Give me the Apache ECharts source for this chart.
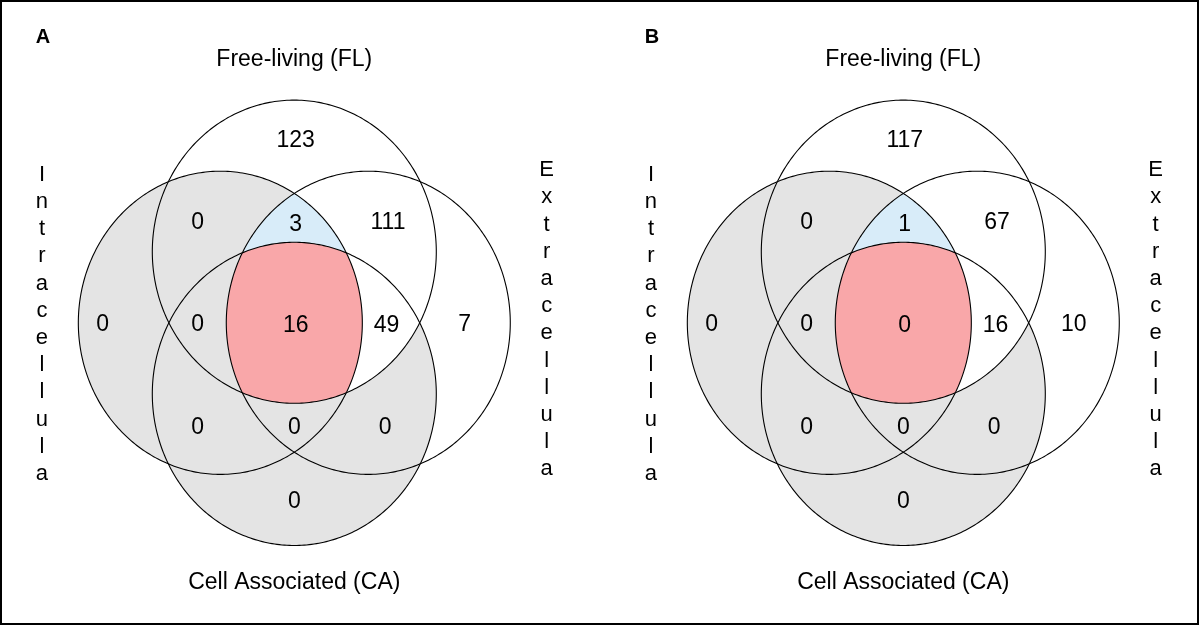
<!DOCTYPE html>
<html><head><meta charset="utf-8">
<script src="https://cdn.jsdelivr.net/npm/echarts@6/dist/echarts.min.js"></script>
<style>html,body{margin:0;padding:0;background:#fff}#c{width:1200px;height:626px}</style>
</head><body><div id="c"></div>
<script>
// ---- data ----
const panelLetters = ['A', 'B'];
const topLabel = 'Free-living (FL)';
const bottomLabel = 'Cell Associated (CA)';
const leftLabel = 'Intracellula';
const rightLabel = 'Extracellula';
const regionNames = ['FL', 'FL∩I', 'FL∩I∩E', 'FL∩E', 'I', 'FL∩I∩CA', 'FL∩I∩E∩CA', 'FL∩E∩CA', 'E', 'I∩CA', 'I∩E∩CA', 'E∩CA', 'CA'];
const countsA = [123, 0, 3, 111, 0, 0, 16, 49, 7, 0, 0, 0, 0];
const countsB = [117, 0, 1, 67, 0, 0, 0, 16, 10, 0, 0, 0, 0];

// ---- layout (unit-circle Venn geometry) ----
const circleCenters = { FL: [0, 0.469], I: [-0.521, 0], E: [0.521, 0], CA: [0, -0.469] };
const regionPos = {
  'FL': [0.01, 1.2], 'FL∩I': [-0.68, 0.66], 'FL∩I∩E': [0.01, 0.65], 'FL∩E': [0.66, 0.66],
  'I': [-1.35, -0.01], 'FL∩I∩CA': [-0.68, -0.01], 'FL∩I∩E∩CA': [0.01, -0.02], 'FL∩E∩CA': [0.65, -0.02],
  'E': [1.2, -0.01], 'I∩CA': [-0.68, -0.69], 'I∩E∩CA': [0.0, -0.69], 'E∩CA': [0.64, -0.69], 'CA': [0.0, -1.18]
};
const FONT = 'Liberation Sans, Arial, sans-serif';

function regionPoly(sets, p0, n) {
  const pts = [];
  for (let k = 0; k < n; k++) {
    const th = 2 * Math.PI * k / n, dx = Math.cos(th), dy = Math.sin(th);
    let tmin = Infinity;
    for (const s of sets) {
      const c = circleCenters[s];
      const px = p0[0] - c[0], py = p0[1] - c[1];
      const b = dx * px + dy * py, cc = px * px + py * py - 1;
      const t = -b + Math.sqrt(b * b - cc);
      if (t < tmin) tmin = t;
    }
    pts.push([p0[0] + tmin * dx, p0[1] + tmin * dy]);
  }
  return pts;
}

const fills = [
  { sets: ['I'], p0: circleCenters.I, color: '#e4e4e4' },
  { sets: ['CA'], p0: circleCenters.CA, color: '#e4e4e4' },
  { sets: ['FL', 'E', 'CA'], p0: [0.174, 0], color: '#ffffff' },
  { sets: ['FL', 'I', 'E'], p0: [0, 0.156], color: '#d8ecf9' },
  { sets: ['FL', 'I', 'E', 'CA'], p0: [0, 0], color: '#f9a7a9' }
];

function textEl(s, c, extra) {
  return { type: 'text', style: Object.assign({ text: s, x: c[0], y: c[1], fill: '#000',
    fontFamily: FONT, fontSize: 22,
    align: 'center', verticalAlign: 'middle', textAlign: 'center', textVerticalAlign: 'middle' }, extra || {}) };
}

function makeRender(letter) {
  return function (params, api) {
    const children = [];
    const map = pts => pts.map(p => api.coord(p));
    fills.forEach(f => {
      children.push({ type: 'polygon', shape: { points: map(regionPoly(f.sets, f.p0, 360)) },
        style: { fill: f.color, stroke: null } });
    });
    Object.keys(circleCenters).forEach(k => {
      children.push({ type: 'polygon', shape: { points: map(regionPoly([k], circleCenters[k], 360)) },
        style: { fill: null, stroke: '#000', lineWidth: 1.1 } });
    });
    children.push(textEl(topLabel, api.coord([0, 1.735]), { fontSize: 23 }));
    children.push(textEl(bottomLabel, api.coord([0, -1.714]), { fontSize: 23 }));
    children.push(textEl(leftLabel.split('').join('\n'), api.coord([-1.777, -0.01]), { lineHeight: 27.2 }));
    children.push(textEl(rightLabel.split('').join('\n'), api.coord([1.777, 0.02]), { lineHeight: 27.2 }));
    children.push(textEl(letter, api.coord([-1.77, 1.88]), { fontSize: 20, fontWeight: 'bold' }));
    return { type: 'group', children };
  };
}

function renderCount(params, api) {
  const c = api.coord([api.value(0), api.value(1)]);
  return textEl(String(api.value(2)), c, { fontSize: 23 });
}

const centersPx = [[294.3, 324.6], [903.3, 324.6]];
const ax = 142, by = 152.5;
const grids = centersPx.map(c => ({ left: c[0] - 2 * ax, top: c[1] - 2 * by, width: 4 * ax, height: 4 * by }));
const axisBase = { type: 'value', min: -2, max: 2, show: false, splitLine: { show: false } };

const series = [];
[countsA, countsB].forEach((counts, i) => {
  series.push({ type: 'custom', xAxisIndex: i, yAxisIndex: i, data: [[0, 0]], renderItem: makeRender(panelLetters[i]), silent: true, z: 1 });
  series.push({ type: 'custom', xAxisIndex: i, yAxisIndex: i, z: 5, silent: true,
    data: regionNames.map((r, j) => [regionPos[r][0], regionPos[r][1], counts[j]]),
    renderItem: renderCount });
});

const chart = echarts.init(document.getElementById('c'), null, { renderer: 'canvas' });
chart.setOption({
  animation: false,
  backgroundColor: '#fff',
  grid: grids,
  xAxis: grids.map((g, i) => Object.assign({ gridIndex: i }, axisBase)),
  yAxis: grids.map((g, i) => Object.assign({ gridIndex: i }, axisBase)),
  graphic: [{ type: 'rect', shape: { x: 1, y: 1, width: 1197, height: 623 }, style: { fill: null, stroke: '#000', lineWidth: 2 }, z: 100 }],
  series
});
</script></body></html>
